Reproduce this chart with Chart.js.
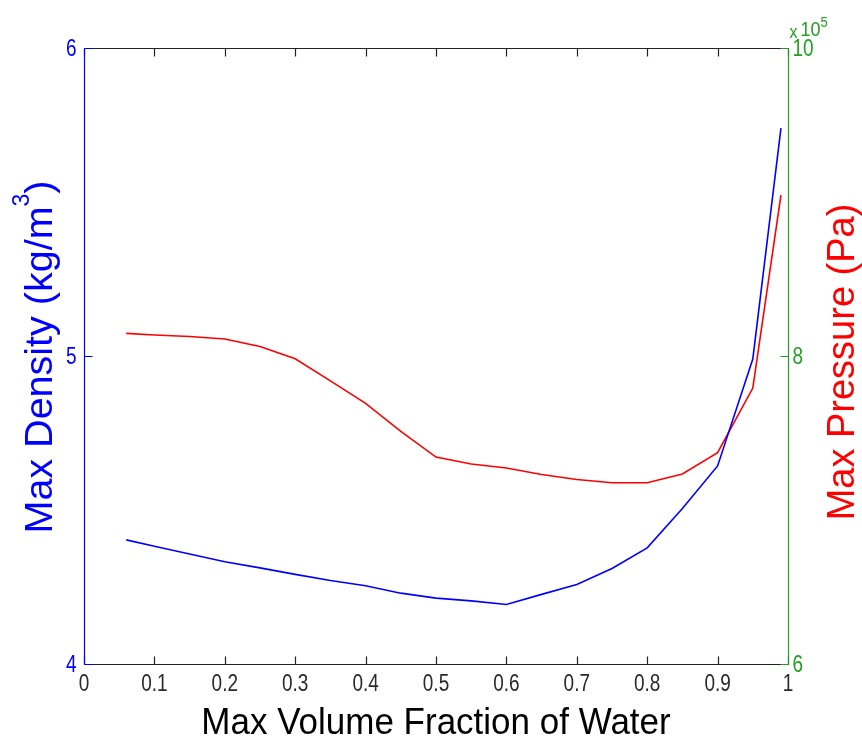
<!DOCTYPE html>
<html>
<head>
<meta charset="utf-8">
<title>Max Density and Max Pressure vs Max Volume Fraction of Water</title>
<script src="https://cdn.jsdelivr.net/npm/chart.js@4/dist/chart.umd.min.js"></script>
<style>
  html, body { margin: 0; padding: 0; background: #ffffff; }
  canvas { display: block; }
</style>
</head>
<body>
<canvas id="chart" width="862" height="743"></canvas>
<script>
// Sampled water volume fractions
const waterFraction = [0.06, 0.1, 0.15, 0.2, 0.25, 0.3, 0.35, 0.4, 0.45, 0.5,
                       0.55, 0.6, 0.65, 0.7, 0.75, 0.8, 0.85, 0.9, 0.95, 0.99];
// Max density (kg/m^3), left axis
const maxDensity = [4.403, 4.382, 4.357, 4.332, 4.312, 4.291, 4.271, 4.254, 4.230, 4.214,
                    4.205, 4.193, 4.226, 4.258, 4.310, 4.377, 4.505, 4.643, 4.990, 5.740];
// Max pressure (Pa), right axis
const maxPressure = [814700, 813600, 812700, 811000, 806200, 798200, 783800, 769200, 751000, 734400,
                     729900, 727300, 723100, 719800, 717700, 717700, 723400, 737200, 779200, 904500];

// Axis ticks
const xTickValues = [0, 0.1, 0.2, 0.3, 0.4, 0.5, 0.6, 0.7, 0.8, 0.9, 1];
const xTickLabels = ['0', '0.1', '0.2', '0.3', '0.4', '0.5', '0.6', '0.7', '0.8', '0.9', '1'];
const densityTicks = [4, 5, 6];
const densityTickLabels = ['4', '5', '6'];
const pressureTicks = [600000, 800000, 1000000];
const pressureTickLabels = ['6', '8', '10'];

const BLUE = '#0000ff';
const RED = '#ff0000';
const GREEN = '#22a022';
const FONT = '"Liberation Sans", Arial, Helvetica, sans-serif';

function stretchedText(ctx, text, x, y, align, baseline, sy, font, color) {
  ctx.save();
  ctx.translate(x, y);
  ctx.scale(1, sy);
  ctx.font = font;
  ctx.fillStyle = color;
  ctx.textAlign = align;
  ctx.textBaseline = baseline;
  ctx.fillText(text, 0, 0);
  ctx.restore();
}

// Frame, inward ticks, tick labels and axis titles drawn with the chart's scales
const axesFrame = {
  id: 'axesFrame',
  afterDraw(chart) {
    const ctx = chart.ctx;
    const area = chart.chartArea;
    const sx = chart.scales.x;
    const sd = chart.scales.yD;
    const sp = chart.scales.yP;
    const L = Math.round(area.left) + 0.5;
    const R = Math.round(area.right) + 0.5;
    const T = Math.round(area.top) + 0.5;
    const B = Math.round(area.bottom) + 0.5;
    const tick = 8;

    ctx.save();
    ctx.lineWidth = 1.2;

    // top and bottom edges with ticks
    ctx.strokeStyle = '#222222';
    ctx.beginPath();
    ctx.moveTo(L, T); ctx.lineTo(R, T);
    ctx.moveTo(L, B); ctx.lineTo(R, B);
    xTickValues.forEach(v => {
      const px = Math.round(sx.getPixelForValue(v)) + 0.5;
      ctx.moveTo(px, B); ctx.lineTo(px, B - tick);
      ctx.moveTo(px, T); ctx.lineTo(px, T + tick);
    });
    ctx.stroke();

    // left density axis
    ctx.strokeStyle = BLUE;
    ctx.beginPath();
    ctx.moveTo(L, T); ctx.lineTo(L, B);
    densityTicks.forEach(v => {
      const py = Math.round(sd.getPixelForValue(v)) + 0.5;
      ctx.moveTo(L, py); ctx.lineTo(L + tick, py);
    });
    ctx.stroke();

    // right pressure axis
    ctx.strokeStyle = GREEN;
    ctx.beginPath();
    ctx.moveTo(R, T); ctx.lineTo(R, B);
    pressureTicks.forEach(v => {
      const py = Math.round(sp.getPixelForValue(v)) + 0.5;
      ctx.moveTo(R, py); ctx.lineTo(R - tick, py);
    });
    ctx.stroke();
    ctx.restore();

    // tick labels
    const tickFont = '19px ' + FONT;
    xTickValues.forEach((v, i) => {
      stretchedText(ctx, xTickLabels[i], sx.getPixelForValue(v), B + 20, 'center', 'middle', 1.3, tickFont, '#2a2a2a');
    });
    densityTicks.forEach((v, i) => {
      stretchedText(ctx, densityTickLabels[i], L - 8, sd.getPixelForValue(v) + 1, 'right', 'middle', 1.3, tickFont, BLUE);
    });
    pressureTicks.forEach((v, i) => {
      stretchedText(ctx, pressureTickLabels[i], R + 4, sp.getPixelForValue(v) + 1, 'left', 'middle', 1.3, tickFont, GREEN);
    });
    // exponent marker for the pressure axis
    stretchedText(ctx, 'x', R + 1, T - 11, 'left', 'alphabetic', 1.2, '16px ' + FONT, GREEN);
    stretchedText(ctx, '10', R + 12, T - 13, 'left', 'alphabetic', 1.15, '18px ' + FONT, GREEN);
    stretchedText(ctx, '5', R + 32, T - 22, 'left', 'alphabetic', 1.1, '13px ' + FONT, GREEN);

    // x axis title
    ctx.save();
    ctx.font = '35px ' + FONT;
    ctx.fillStyle = '#000000';
    ctx.textAlign = 'center';
    ctx.textBaseline = 'alphabetic';
    ctx.translate((area.left + area.right) / 2, 734);
    ctx.scale(1, 1.07);
    ctx.fillText('Max Volume Fraction of Water', 0, 0);
    ctx.restore();

    const midY = (area.top + area.bottom) / 2;

    // left axis title with superscript
    ctx.save();
    ctx.translate(52, midY + 1);
    ctx.rotate(-Math.PI / 2);
    ctx.fillStyle = BLUE;
    ctx.textBaseline = 'alphabetic';
    ctx.textAlign = 'left';
    const mainFont = '39.5px ' + FONT;
    const supFont = '23px ' + FONT;
    ctx.font = mainFont;
    const partA = 'Max Density (kg/m';
    const partC = ')';
    const wA = ctx.measureText(partA).width;
    const wC = ctx.measureText(partC).width;
    ctx.font = supFont;
    const wB = ctx.measureText('3').width;
    const total = wA + wB + wC;
    const x0 = -total / 2;
    ctx.font = mainFont;
    ctx.fillText(partA, x0, 0);
    ctx.font = supFont;
    ctx.fillText('3', x0 + wA, -23);
    ctx.font = mainFont;
    ctx.fillText(partC, x0 + wA + wB, 0);
    ctx.restore();

    // right axis title
    ctx.save();
    ctx.translate(854, midY + 6);
    ctx.rotate(-Math.PI / 2);
    ctx.fillStyle = RED;
    ctx.font = '38px ' + FONT;
    ctx.textAlign = 'center';
    ctx.textBaseline = 'alphabetic';
    ctx.fillText('Max Pressure (Pa)', 0, 0);
    ctx.restore();
  }
};

new Chart(document.getElementById('chart'), {
  type: 'line',
  data: {
    datasets: [
      {
        label: 'Max Density',
        data: waterFraction.map((x, i) => ({ x: x, y: maxDensity[i] })),
        borderColor: BLUE,
        borderWidth: 1.6,
        pointRadius: 0,
        tension: 0,
        fill: false,
        yAxisID: 'yD'
      },
      {
        label: 'Max Pressure',
        data: waterFraction.map((x, i) => ({ x: x, y: maxPressure[i] })),
        borderColor: RED,
        borderWidth: 1.6,
        pointRadius: 0,
        tension: 0,
        fill: false,
        yAxisID: 'yP'
      }
    ]
  },
  options: {
    responsive: false,
    animation: false,
    devicePixelRatio: 1,
    layout: { padding: { left: 84, right: 74, top: 48, bottom: 79 } },
    plugins: { legend: { display: false }, tooltip: { enabled: false } },
    scales: {
      x: { type: 'linear', min: 0, max: 1, display: false },
      yD: { type: 'linear', position: 'left', min: 4, max: 6, display: false },
      yP: { type: 'linear', position: 'right', min: 600000, max: 1000000, display: false }
    }
  },
  plugins: [axesFrame]
});
</script>
</body>
</html>
